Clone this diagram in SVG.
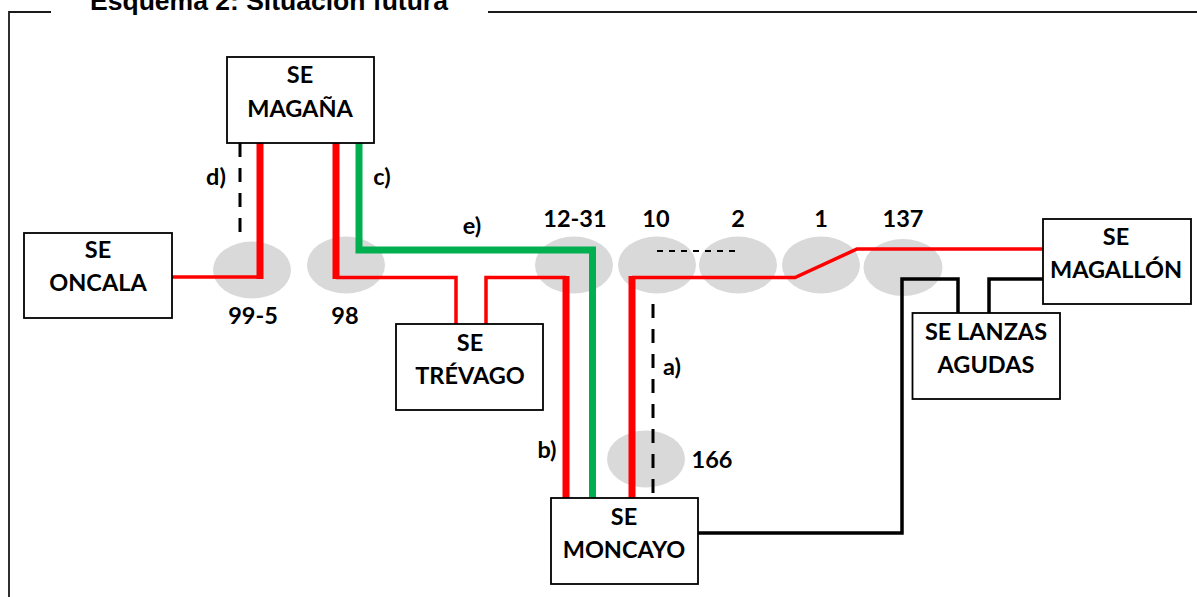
<svg xmlns="http://www.w3.org/2000/svg" width="1197" height="597" viewBox="0 0 1197 597">
<style>
text{font-family:Lato,"Open Sans",sans-serif;font-weight:700;font-size:23.500px;fill:#000;text-anchor:middle}
text.t{font-family:"Liberation Sans",Arial,sans-serif;font-size:26.500px}
.n{fill:#fff;stroke:#000;stroke-width:1.800}
.e{fill:#d9d9d9}
.l{fill:none;stroke-linejoin:miter}
.r{stroke:#fe0000;stroke-width:3.500}
.R{stroke:#fe0000;stroke-width:7}
.g{stroke:#00b050;stroke-width:7}
.k{stroke:#000;stroke-width:3.500}
.d{stroke:#000;stroke-width:3;stroke-dasharray:14 11}
.f{stroke:#1a1a1a;stroke-width:1.800;fill:none}
.s{stroke:#000;stroke-width:2;stroke-dasharray:6 6}
</style>
<path class="f" d="M51 12H9V597M488 12H1197"/>
<text class="t" x="269" y="10">Esquema 2: Situación futura</text>
<g id="ellipses">
<ellipse class="e" cx="252" cy="270" rx="39" ry="28.500"/>
<ellipse class="e" cx="346" cy="265" rx="39" ry="28.500"/>
<ellipse class="e" cx="574" cy="265" rx="39" ry="28.500"/>
<ellipse class="e" cx="657" cy="265" rx="39" ry="28.500"/>
<ellipse class="e" cx="738" cy="265" rx="39" ry="28.500"/>
<ellipse class="e" cx="821" cy="265" rx="39" ry="28.500"/>
<ellipse class="e" cx="903" cy="267.500" rx="39.500" ry="28.500"/>
<ellipse class="e" cx="646" cy="459" rx="39" ry="28.500"/>
</g>
<g id="connectors">
<path class="l r" d="M172 277H260"/>
<path class="l R" d="M260 143V279"/>
<path class="l d" d="M240 143V232"/>
<path class="l R" d="M336 143V279"/>
<path class="l r" d="M336 277.500H456V324"/>
<path class="l r" d="M486 324V277.500H566"/>
<path class="l R" d="M566 276V498"/>
<path class="l g" d="M359 143V250H592.500V498"/>
<path class="l R" d="M632 498V276"/>
<path class="l r" d="M632 277.500H795L857 249H1043"/>
<path class="s" d="M657 251H739"/>
<path class="l d" d="M653 304V498"/>
<path class="l k" d="M698 533H902V279H958V313"/>
<path class="l k" d="M989 313V279H1043"/>
</g>
<g id="se-magana"><rect class="n" x="227" y="57" width="147" height="86"/><text x="300" y="83">SE</text><text x="300" y="117">MAGAÑA</text></g>
<g id="se-oncala"><rect class="n" x="24" y="233" width="148" height="85"/><text x="98" y="258">SE</text><text x="98" y="291">ONCALA</text></g>
<g id="se-trevago"><rect class="n" x="396" y="324" width="147" height="86"/><text x="470" y="351">SE</text><text x="470" y="384">TRÉVAGO</text></g>
<g id="se-moncayo"><rect class="n" x="551" y="498" width="147" height="86"/><text x="624" y="525">SE</text><text x="624" y="558">MONCAYO</text></g>
<g id="se-magallon"><rect class="n" x="1043" y="219" width="148" height="85"/><text x="1116" y="245">SE</text><text x="1116" y="278">MAGALLÓN</text></g>
<g id="se-lanzas"><rect class="n" x="912.500" y="313" width="147.500" height="86"/><text x="986" y="340">SE LANZAS</text><text x="986" y="373">AGUDAS</text></g>
<g id="labels">
<text x="575" y="227">12-31</text><text x="656" y="227">10</text><text x="738" y="227">2</text><text x="821" y="227">1</text><text x="903" y="227">137</text>
<text x="253" y="324">99-5</text><text x="345" y="324">98</text>
<text x="216" y="185">d)</text><text x="382" y="185">c)</text><text x="472" y="234">e)</text><text x="672" y="375">a)</text><text x="547" y="458">b)</text><text x="712" y="468">166</text>
</g>
</svg>
